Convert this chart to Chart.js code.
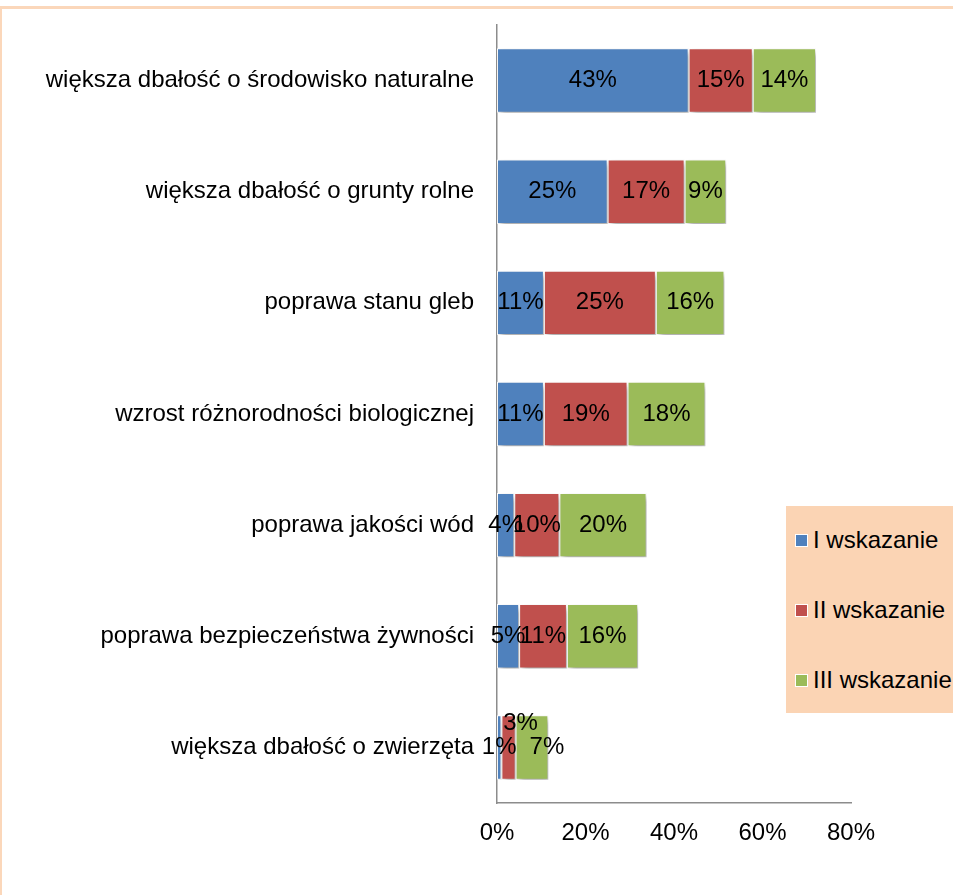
<!DOCTYPE html>
<html>
<head>
<meta charset="utf-8">
<script src="https://cdn.jsdelivr.net/npm/chart.js@4.4.1/dist/chart.umd.min.js"></script>
<style>
  html, body { margin: 0; padding: 0; background: #fff; overflow: hidden; }
  #frame { position: absolute; left: 0; top: 6px; width: 1200px; height: 1200px;
           border-top: 3px solid #fbd7ba; border-left: 2px solid #fbd7ba; box-sizing: border-box; }
  #wrap { position: absolute; left: 0; top: 0; width: 953px; height: 895px; }
  #legend { position: absolute; left: 786px; top: 506px; width: 200px; height: 207px;
            background: #fbd4b4; font: 24px "Liberation Sans", Arial, sans-serif; color: #000; }
  #legend .item { position: absolute; left: 9px; display: flex; align-items: center; white-space: nowrap; }
  #legend .box { width: 11px; height: 11px; border: 1px solid #fff; margin-right: 5px; }
</style>
</head>
<body>
<div id="frame"></div>
<div id="wrap"><canvas id="myChart" width="953" height="895"></canvas></div>
<div id="legend"></div>
<script>
const labels = [
    'większa dbałość o środowisko naturalne',
    'większa dbałość o grunty rolne',
    'poprawa stanu gleb',
    'wzrost różnorodności biologicznej',
    'poprawa jakości wód',
    'poprawa bezpieczeństwa żywności',
    'większa dbałość o zwierzęta'
];
const seriesNames = ['I wskazanie', 'II wskazanie', 'III wskazanie'];
const first = [43.3, 25.0, 10.6, 10.6, 3.9, 5.0, 1.0];
const second = [14.5, 17.4, 25.3, 18.9, 10.2, 10.8, 3.2];
const third = [14.3, 9.4, 15.5, 17.6, 19.7, 16.1, 7.4];
const xTicks = [0, 20, 40, 60, 80];

const colors = ['#4f81bd', '#c0504d', '#9bbb59'];
const font = { family: '"Liberation Sans", Arial, sans-serif', size: 24 };

// a few labels are pushed aside like in the original (dataset-index: [dx, dy])
const labelNudge = { '1-6': [12, -24], '2-6': [15, 0] };

const chartEl = document.getElementById('myChart');

const shadowPlugin = {
    id: 'barShadow',
    beforeDatasetDraw(chart) {
        const ctx = chart.ctx;
        ctx.save();
        ctx.shadowColor = 'rgba(0,0,0,0.35)';
        ctx.shadowBlur = 6;
        ctx.shadowOffsetX = 3;
        ctx.shadowOffsetY = 4;
    },
    afterDatasetDraw(chart) {
        chart.ctx.restore();
    }
};

const valueLabels = {
    id: 'valueLabels',
    afterDatasetsDraw(chart) {
        const ctx = chart.ctx;
        ctx.save();
        ctx.font = font.size + 'px ' + font.family;
        ctx.fillStyle = '#000';
        ctx.textAlign = 'center';
        ctx.textBaseline = 'middle';
        chart.data.datasets.forEach((ds, i) => {
            const meta = chart.getDatasetMeta(i);
            meta.data.forEach((bar, j) => {
                const n = labelNudge[i + '-' + j] || [0, 0];
                const x = (bar.x + bar.base) / 2 + n[0];
                ctx.fillText(Math.round(ds.data[j]) + '%', x, bar.y + n[1]);
            });
        });
        ctx.restore();
    }
};

const datasets = [first, second, third].map((d, i) => ({
    label: seriesNames[i],
    data: d,
    backgroundColor: colors[i],
    borderColor: '#fff',
    borderWidth: 1,
    borderSkipped: false,
    barPercentage: 0.58,
    categoryPercentage: 1
}));

const config = {
    type: 'bar',
    data: { labels: labels, datasets: datasets },
    options: {
        indexAxis: 'y',
        responsive: false,
        animation: false,
        layout: { padding: { top: 25, right: 102, left: 0, bottom: 0 } },
        plugins: {
            legend: { display: false },
            tooltip: { enabled: false }
        },
        scales: {
            x: {
                stacked: true,
                min: 0,
                max: 80,
                afterBuildTicks(scale) {
                    scale.ticks = xTicks.map(v => ({ value: v }));
                },
                afterFit(scale) { scale.height = 92; },
                ticks: {
                    color: '#000',
                    font: font,
                    padding: 8,
                    callback: v => v + '%'
                },
                grid: { display: false },
                border: { display: true, color: '#8c8c8c', width: 1.5 }
            },
            y: {
                stacked: true,
                afterFit(scale) {
                    scale.width = 497;
                    scale.paddingTop = 0;
                    scale.paddingBottom = 0;
                },
                ticks: {
                    color: '#000',
                    font: font,
                    padding: 15
                },
                grid: { display: false },
                border: { display: true, color: '#8c8c8c', width: 1.5 }
            }
        }
    },
    plugins: [shadowPlugin, valueLabels]
};

const myChart = new Chart(chartEl, config);

// legend box on the right
const legendEl = document.getElementById('legend');
const itemTops = [20, 90, 160];
myChart.data.datasets.forEach((ds, i) => {
    const item = document.createElement('div');
    item.className = 'item';
    item.style.top = itemTops[i] + 'px';
    const box = document.createElement('span');
    box.className = 'box';
    box.style.background = ds.backgroundColor;
    const txt = document.createElement('span');
    txt.textContent = ds.label;
    item.appendChild(box);
    item.appendChild(txt);
    legendEl.appendChild(item);
});
</script>
</body>
</html>
